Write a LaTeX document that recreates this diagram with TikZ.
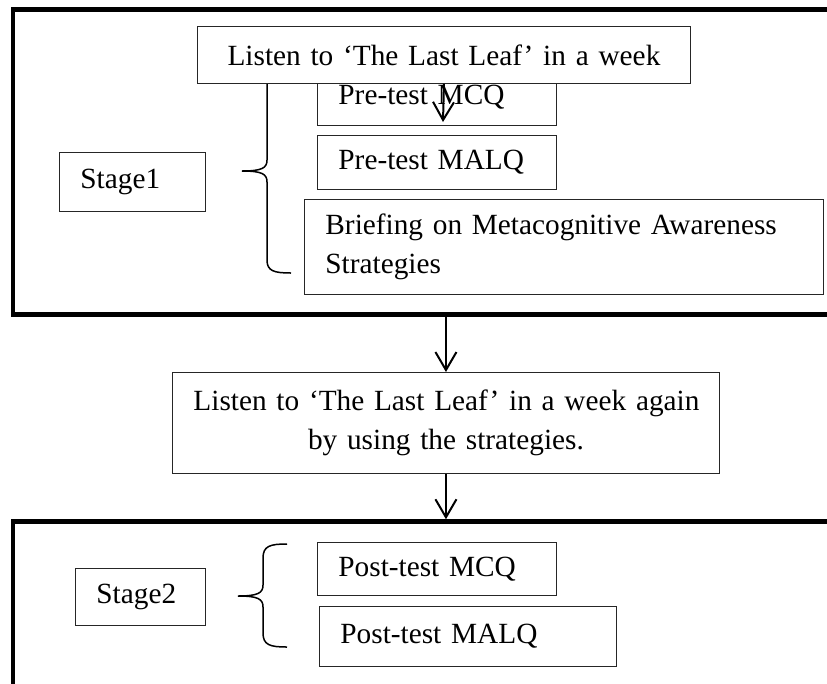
\documentclass[tikz,border=0pt]{standalone}
\usepackage{fontspec}
\setmainfont{Liberation Serif}
\usetikzlibrary{arrows.meta,positioning}

\begin{document}
\begin{tikzpicture}[x=1pt, y=-1pt,
    every node/.style={font=\fontsize{29.3}{38.5}\selectfont},
    box/.style={draw=black!85, line width=0.9pt, fill=white, anchor=north west, inner xsep=21pt, inner ysep=0pt, align=left},
    stageframe/.style={draw, line width=4.5pt, anchor=north west, inner sep=0pt},
    arr/.style={-{Straight Barb[length=18pt,width=21pt]}, line width=2pt},
    bracket/.style={line width=1.5pt}]
    \useasboundingbox (0,0) rectangle (827,683);
    \clip (0,0) rectangle (827,683);

    % Stage 1 brace (top end sits under the listening box)
    \draw[bracket] (291,65) .. controls (274,65) and (267,67) .. (267,80) -- (267,160)
        .. controls (267,168) and (262,171) .. (242,171)
        .. controls (262,171) and (267,174) .. (267,182) -- (267,260)
        .. controls (267,271) and (274,273) .. (291,273);

    % Stage frames
    \node[stageframe, minimum width=827pt, minimum height=305pt] (stage1frame) at (10.75,7.25) {};
    \node[stageframe, minimum width=827pt, minimum height=300pt] (stage2frame) at (10.75,519.25) {};

    % Stage 1
    \node[box, minimum width=146pt, minimum height=59pt, text width=104pt] (stage1) at (59,152) {Stage1};
    \node[box, minimum width=239pt, minimum height=57pt, text width=197pt] (premcq) at (317,68) {Pre-test MCQ};
    \node[box, minimum width=493pt, minimum height=57pt, text width=451pt, align=center] (listen) at (197,26) {Listen to ‘The Last Leaf’ in a week};
    \node[box, minimum width=239pt, minimum height=54pt, text width=197pt] (premalq) at (317,135) {Pre-test MALQ};
    \node[box, minimum width=519pt, minimum height=95pt, text width=477pt] (briefing) at (304,199) {Briefing on Metacognitive Awareness\\Strategies};
    \coordinate (mcqtip) at (443,122);

    % Listening again
    \node[box, minimum width=547pt, minimum height=101pt, text width=505pt, align=center] (again) at (172,372) {Listen to ‘The Last Leaf’ in a week again\\by using the strategies.};

    % Stage 2 brace
    \draw[bracket] (287,544) .. controls (270,544) and (263,546) .. (263,558) -- (263,585)
        .. controls (263,593) and (258,596) .. (238,596)
        .. controls (258,596) and (263,599) .. (263,607) -- (263,633)
        .. controls (263,645) and (270,647) .. (287,647);

    % Stage 2
    \node[box, minimum width=130pt, minimum height=57pt, text width=88pt] (stage2) at (75,568) {Stage2};
    \node[box, minimum width=239pt, minimum height=53pt, text width=197pt] (postmcq) at (317,542) {Post-test MCQ};
    \node[box, minimum width=297pt, minimum height=60pt, text width=255pt] (postmalq) at (319,606) {Post-test MALQ};

    % Edges
    \draw[arr] (listen.south) -- (mcqtip);
    \draw[arr] (stage1frame.south -| again.north) -- (again.north);
    \draw[arr] (again.south) -- (again.south |- stage2frame.north);
\end{tikzpicture}
\end{document}
